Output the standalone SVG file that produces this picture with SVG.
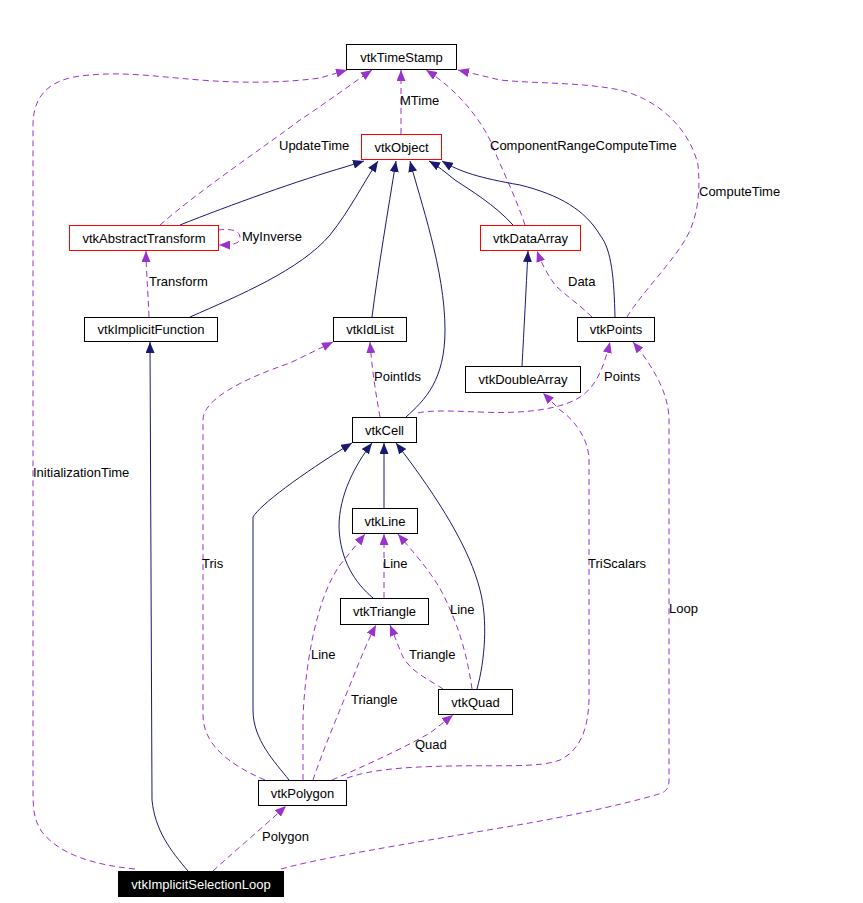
<svg xmlns="http://www.w3.org/2000/svg" width="863" height="903" viewBox="0 0 863 903">
<style>
.n rect{fill:#fff;stroke:#000;stroke-width:1}
.n.r rect{stroke:#ff0000}
.n text,.lbl{font-family:"Liberation Sans",Arial,sans-serif;font-size:13px;fill:#000}
.n text{text-anchor:middle}
.n.k rect{fill:#000;stroke:#000}
.n.k text{fill:#fff}
.inh{fill:none;stroke:#191970;stroke-width:1;marker-end:url(#ai)}
.use{fill:none;stroke:#9a32cd;stroke-width:1;stroke-dasharray:6,4;marker-end:url(#au)}
</style>
<defs>
<marker id="ai" markerUnits="userSpaceOnUse" markerWidth="11" markerHeight="9" refX="11" refY="4.5" orient="auto"><path d="M0,0 L11,4.5 L0,9 z" fill="#191970"/></marker>
<marker id="au" markerUnits="userSpaceOnUse" markerWidth="11" markerHeight="9" refX="11" refY="4.5" orient="auto"><path d="M0,0 L11,4.5 L0,9 z" fill="#9a32cd"/></marker>
</defs>
<rect width="863" height="903" fill="#fff"/>
<g id="connectors">
<path class="use" d="M401,134 L401,70"/>
<path class="use" d="M160,225 C200,190 260,150 300,120 C330,100 350,85 372,70"/>
<path class="use" d="M135,869 C95,865 60,855 42,832 C34,820 33,810 33,790 L33,125 C33,95 50,80 80,76 C120,71 150,76 200,80 C250,84 290,82 320,78 L347,70"/>
<path class="use" d="M525,225 C515,195 500,165 490,140 C475,110 450,85 426,70"/>
<path class="use" d="M627,317 C640,295 670,265 685,240 C700,215 700,185 698,165 C690,130 660,100 620,90 C580,82 540,84 500,80 L458,70"/>
<path class="inh" d="M180,225 C230,205 300,180 345,167 L364,161"/>
<path class="inh" d="M190,317 C240,295 300,270 330,235 C350,210 362,185 378,161"/>
<path class="inh" d="M372,317 C378,270 388,210 396,161"/>
<path class="inh" d="M406,417 C425,400 445,380 445,330 C445,270 420,200 410,161"/>
<path class="inh" d="M513,225 C495,205 470,190 455,180 C445,172 438,166 429,161"/>
<path class="inh" d="M615,317 C614,280 612,250 600,235 C585,210 560,195 520,185 C480,178 460,172 442,161"/>
<path class="use" d="M218,230 C235,228 240,232 240,238 C240,243 235,245 219,245"/>
<path class="use" d="M149,317 C148,290 146,270 146,251"/>
<path class="inh" d="M188,871 C170,850 155,830 152,800 L150,342"/>
<path class="inh" d="M522,366 C524,330 526,290 528,251"/>
<path class="use" d="M592,317 C580,305 565,295 555,285 C548,275 542,265 537,251"/>
<path class="use" d="M418,413 C430,410 450,411 480,412 C520,414 555,410 575,400 C595,390 603,370 610,342"/>
<path class="use" d="M380,417 C376,395 372,370 370,342"/>
<path class="use" d="M265,780 C230,765 203,745 203,715 L203,420 C203,400 240,380 290,363 L333,342"/>
<path class="inh" d="M384,508 L384,443"/>
<path class="inh" d="M373,598 C355,583 340,560 339,527 C339,495 355,465 372,443"/>
<path class="inh" d="M477,689 C485,660 488,620 480,590 C470,550 440,500 396,443"/>
<path class="inh" d="M289,780 C275,762 253,740 253,710 L253,517 C260,505 300,475 352,443"/>
<path class="use" d="M384,598 L384,534"/>
<path class="use" d="M303,780 L303,717 C305,670 315,600 340,565 L365,534"/>
<path class="use" d="M313,780 C323,750 340,710 352,680 C360,660 368,640 376,625"/>
<path class="use" d="M443,689 C430,680 410,672 402,655 L390,625"/>
<path class="use" d="M472,689 C468,660 460,630 448,605 C438,580 420,560 398,534"/>
<path class="use" d="M332,780 C360,768 400,750 430,733 L453,715"/>
<path class="use" d="M347,778 C370,770 400,767 450,766 C500,765 540,768 560,760 C580,750 588,730 589,700 L589,460 C589,440 575,420 560,410 L543,393"/>
<path class="use" d="M213,871 C230,855 260,830 286,806"/>
<path class="use" d="M281,869 C320,858 400,845 500,828 C580,815 640,800 662,793 C668,790 669,785 669,780 L669,420 C669,400 660,375 633,342"/>
<text class="lbl" x="400" y="105">MTime</text>
<text class="lbl" x="279" y="150">UpdateTime</text>
<text class="lbl" x="33" y="477">InitializationTime</text>
<text class="lbl" x="490" y="150">ComponentRangeComputeTime</text>
<text class="lbl" x="699" y="196">ComputeTime</text>
<text class="lbl" x="242" y="241">MyInverse</text>
<text class="lbl" x="149" y="286">Transform</text>
<text class="lbl" x="568" y="286">Data</text>
<text class="lbl" x="604" y="381">Points</text>
<text class="lbl" x="374" y="381">PointIds</text>
<text class="lbl" x="202" y="568">Tris</text>
<text class="lbl" x="383" y="568">Line</text>
<text class="lbl" x="311" y="659">Line</text>
<text class="lbl" x="351" y="704">Triangle</text>
<text class="lbl" x="409" y="659">Triangle</text>
<text class="lbl" x="450" y="614">Line</text>
<text class="lbl" x="415" y="749">Quad</text>
<text class="lbl" x="588" y="568">TriScalars</text>
<text class="lbl" x="262" y="841">Polygon</text>
<text class="lbl" x="669" y="613">Loop</text>
</g>
<g id="vtkTimeStamp" class="n"><rect x="346.500" y="44.500" width="110" height="25"/><text x="401.500" y="61.500">vtkTimeStamp</text></g>
<g id="vtkObject" class="n r"><rect x="361.500" y="134.500" width="80" height="25"/><text x="401.500" y="151.500">vtkObject</text></g>
<g id="vtkAbstractTransform" class="n r"><rect x="69.500" y="225.500" width="149" height="25"/><text x="144" y="242.500">vtkAbstractTransform</text></g>
<g id="vtkDataArray" class="n r"><rect x="480.500" y="225.500" width="100" height="25"/><text x="530.500" y="242.500">vtkDataArray</text></g>
<g id="vtkImplicitFunction" class="n"><rect x="84.500" y="317.500" width="133" height="24"/><text x="151" y="334">vtkImplicitFunction</text></g>
<g id="vtkIdList" class="n"><rect x="333.500" y="317.500" width="73" height="24"/><text x="370" y="334">vtkIdList</text></g>
<g id="vtkPoints" class="n"><rect x="577.500" y="317.500" width="77" height="24"/><text x="616" y="334">vtkPoints</text></g>
<g id="vtkDoubleArray" class="n"><rect x="465.500" y="366.500" width="115" height="26"/><text x="523" y="384">vtkDoubleArray</text></g>
<g id="vtkCell" class="n"><rect x="352.500" y="417.500" width="64" height="25"/><text x="384.500" y="434.500">vtkCell</text></g>
<g id="vtkLine" class="n"><rect x="352.500" y="508.500" width="65" height="25"/><text x="385" y="525.500">vtkLine</text></g>
<g id="vtkTriangle" class="n"><rect x="340.500" y="598.500" width="88" height="26"/><text x="384.500" y="616">vtkTriangle</text></g>
<g id="vtkQuad" class="n"><rect x="438.500" y="689.500" width="74" height="25"/><text x="475.500" y="706.500">vtkQuad</text></g>
<g id="vtkPolygon" class="n"><rect x="258.500" y="780.500" width="88" height="25"/><text x="302.500" y="797.500">vtkPolygon</text></g>
<g id="vtkImplicitSelectionLoop" class="n k"><rect x="118.500" y="871.500" width="165" height="25"/><text x="201" y="888.500">vtkImplicitSelectionLoop</text></g>
</svg>
